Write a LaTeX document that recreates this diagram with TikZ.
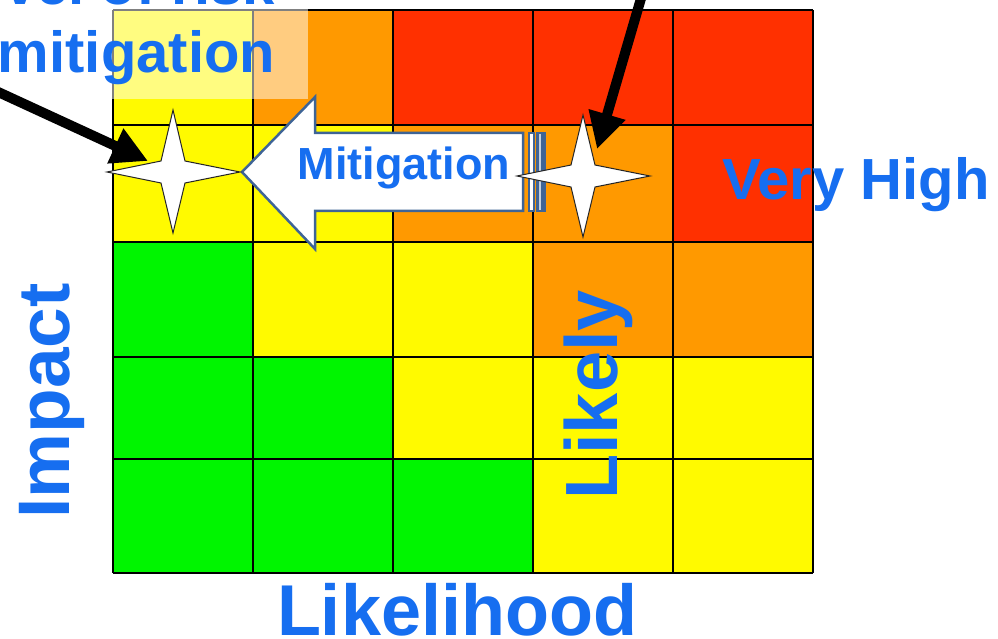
\documentclass[tikz,border=0pt]{standalone}
\usepackage{fontspec}
\setmainfont{Liberation Sans}
\usetikzlibrary{arrows.meta,calc}
\definecolor{cellgreen}{RGB}{0,245,0}
\definecolor{cellyellow}{RGB}{255,250,0}
\definecolor{cellorange}{RGB}{255,153,0}
\definecolor{cellred}{RGB}{255,48,0}
\definecolor{labelblue}{RGB}{22,110,240}
\definecolor{arrowedge}{RGB}{62,100,150}
\tikzset{
  cell/.style={draw=black, line width=1.2bp},
  lbl/.style={text=labelblue, font=\bfseries, inner sep=0pt, outer sep=0pt},
  pointer/.style={draw=black, line width=10bp, -{Triangle[length=36bp,width=36bp]}},
  sparkle/.style={fill=white, draw=black!85, line width=1bp, line join=miter},
  blockarrow/.style={fill=white, draw=arrowedge, line width=2.5bp, line join=miter},
}
\begin{document}
\begin{tikzpicture}[x=1bp,y=-1bp]
\useasboundingbox (0,0) rectangle (998,639);
\clip (0,0) rectangle (998,639);
\fill[white] (0,0) rectangle (998,639);

% risk matrix cells: rows top to bottom, columns left to right
\def\xs{{113,253,393,533,673,813}}
\def\ys{{10,125,242,357,459,573}}
\foreach \r/\rowcols in {0/{cellyellow,cellorange,cellred,cellred,cellred},
                         1/{cellyellow,cellyellow,cellorange,cellorange,cellred},
                         2/{cellgreen,cellyellow,cellyellow,cellorange,cellorange},
                         3/{cellgreen,cellgreen,cellyellow,cellyellow,cellyellow},
                         4/{cellgreen,cellgreen,cellgreen,cellyellow,cellyellow}}{
  \foreach \col [count=\c from 0] in \rowcols {
    \pgfmathsetmacro{\xa}{\xs[\c]}
    \pgfmathsetmacro{\xb}{\xs[\c+1]}
    \pgfmathsetmacro{\ya}{\ys[\r]}
    \pgfmathsetmacro{\yb}{\ys[\r+1]}
    \path[fill=\col] (\xa,\ya) rectangle (\xb,\yb);
  }
}
\foreach \x in {113,253,393,533,673,813} \draw[cell] (\x,10) -- (\x,573);
\foreach \y in {10,125,242,357,459,573} \draw[cell] (113,\y) -- (813,\y);

% translucent backing of the top-left caption
\fill[white, opacity=0.5] (0,0) rectangle (308,99);
\node[lbl, font=\bfseries\fontsize{58bp}{68bp}\selectfont, align=right, anchor=base east]
  (caption) at (275,73) {Level of risk\\mitigation};

% mitigation block arrow with striped tail
\draw[blockarrow] (242,172) -- (315,97) -- (315,133) -- (523,133) -- (523,211)
  -- (315,211) -- (315,249) -- cycle;
\draw[blockarrow] (529,133) rectangle (534,211);
\fill[arrowedge] (536,132) rectangle (546,212);
\draw[white!70!arrowedge, line width=1.5bp] (540,134) -- (540,210);
\node[lbl, font=\bfseries\fontsize{45bp}{50bp}\selectfont, anchor=base]
  (mitlabel) at (404,180) {Mitigation};

% residual and inherent risk markers
\coordinate (low) at (173,172);
\coordinate (high) at (583,176);
\draw[sparkle] ($(low)+(0,-62)$) -- ($(low)+(12,-11)$) -- ($(low)+(67,0)$) -- ($(low)+(12,11)$)
  -- ($(low)+(0,61)$) -- ($(low)+(-12,11)$) -- ($(low)+(-66,0)$) -- ($(low)+(-12,-11)$) -- cycle;
\draw[sparkle] ($(high)+(0,-61)$) -- ($(high)+(12,-11)$) -- ($(high)+(67,0)$) -- ($(high)+(12,11)$)
  -- ($(high)+(0,61)$) -- ($(high)+(-12,11)$) -- ($(high)+(-66,0)$) -- ($(high)+(-12,-11)$) -- cycle;

% call-out pointers
\coordinate (leftstart) at (-4,91);
\coordinate (lefttip) at (148,161);
\coordinate (topstart) at (642,-5);
\coordinate (toptip) at (597,149);
\draw[pointer] (leftstart) -- (lefttip);
\draw[pointer] (topstart) -- (toptip);

% axis and zone labels
\node[lbl, font=\bfseries\fontsize{58bp}{60bp}\selectfont, anchor=base]
  (veryhigh) at (856,200) {Very High};
\node[lbl, font=\bfseries\fontsize{74bp}{80bp}\selectfont, anchor=base, rotate=90]
  (likely) at (617,395) {Likely};
\node[lbl, font=\bfseries\fontsize{73bp}{80bp}\selectfont, anchor=base, rotate=90]
  (impact) at (69,401) {Impact};
\node[lbl, font=\bfseries\fontsize{72bp}{80bp}\selectfont, anchor=base]
  (likelihood) at (457,635) {Likelihood};
\end{tikzpicture}
\end{document}
